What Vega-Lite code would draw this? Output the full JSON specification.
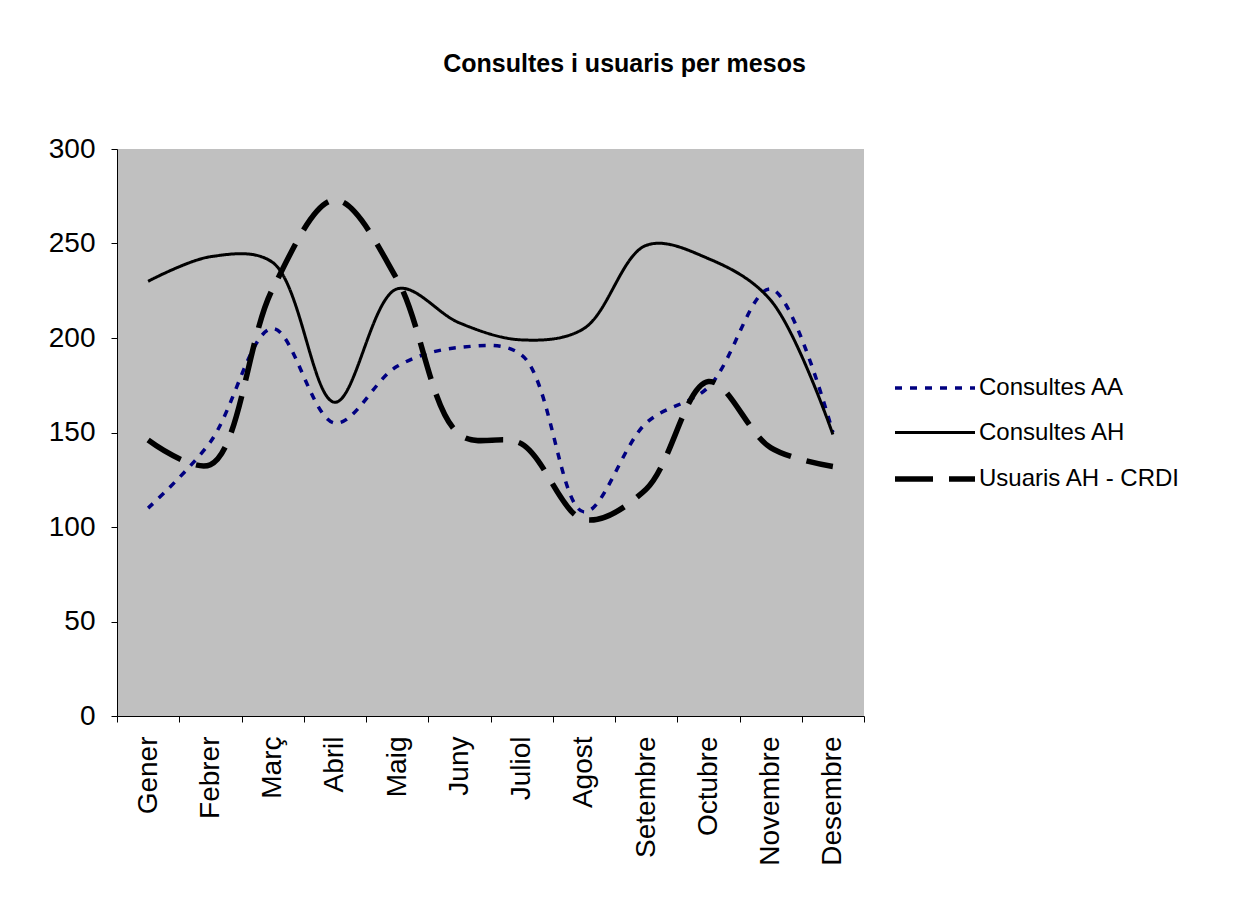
{
  "$schema": "https://vega.github.io/schema/vega-lite/v6.json",
  "width": 747,
  "height": 567,
  "autosize": {"type": "none"},
  "padding": {"left": 117, "top": 149, "right": 371, "bottom": 184},
  "background": "white",
  "title": {
    "text": "Consultes i usuaris per mesos",
    "font": "Liberation Sans",
    "fontSize": 25,
    "fontWeight": "bold",
    "color": "black",
    "anchor": "middle",
    "dx": 134,
    "offset": 58
  },
  "data": {
    "values": [
      {"mes": "Gener", "serie": "Consultes AA", "valor": 110},
      {"mes": "Febrer", "serie": "Consultes AA", "valor": 145},
      {"mes": "Març", "serie": "Consultes AA", "valor": 205},
      {"mes": "Abril", "serie": "Consultes AA", "valor": 155},
      {"mes": "Maig", "serie": "Consultes AA", "valor": 185},
      {"mes": "Juny", "serie": "Consultes AA", "valor": 195},
      {"mes": "Juliol", "serie": "Consultes AA", "valor": 191},
      {"mes": "Agost", "serie": "Consultes AA", "valor": 108},
      {"mes": "Setembre", "serie": "Consultes AA", "valor": 155},
      {"mes": "Octubre", "serie": "Consultes AA", "valor": 174},
      {"mes": "Novembre", "serie": "Consultes AA", "valor": 226},
      {"mes": "Desembre", "serie": "Consultes AA", "valor": 150},
      {"mes": "Gener", "serie": "Consultes AH", "valor": 230},
      {"mes": "Febrer", "serie": "Consultes AH", "valor": 243},
      {"mes": "Març", "serie": "Consultes AH", "valor": 240},
      {"mes": "Abril", "serie": "Consultes AH", "valor": 166},
      {"mes": "Maig", "serie": "Consultes AH", "valor": 226},
      {"mes": "Juny", "serie": "Consultes AH", "valor": 208},
      {"mes": "Juliol", "serie": "Consultes AH", "valor": 199},
      {"mes": "Agost", "serie": "Consultes AH", "valor": 205},
      {"mes": "Setembre", "serie": "Consultes AH", "valor": 249},
      {"mes": "Octubre", "serie": "Consultes AH", "valor": 242},
      {"mes": "Novembre", "serie": "Consultes AH", "valor": 220},
      {"mes": "Desembre", "serie": "Consultes AH", "valor": 149},
      {"mes": "Gener", "serie": "Usuaris AH - CRDI", "valor": 146},
      {"mes": "Febrer", "serie": "Usuaris AH - CRDI", "valor": 133},
      {"mes": "Març", "serie": "Usuaris AH - CRDI", "valor": 226},
      {"mes": "Abril", "serie": "Usuaris AH - CRDI", "valor": 273},
      {"mes": "Maig", "serie": "Usuaris AH - CRDI", "valor": 231},
      {"mes": "Juny", "serie": "Usuaris AH - CRDI", "valor": 149},
      {"mes": "Juliol", "serie": "Usuaris AH - CRDI", "valor": 144},
      {"mes": "Agost", "serie": "Usuaris AH - CRDI", "valor": 104},
      {"mes": "Setembre", "serie": "Usuaris AH - CRDI", "valor": 120},
      {"mes": "Octubre", "serie": "Usuaris AH - CRDI", "valor": 177},
      {"mes": "Novembre", "serie": "Usuaris AH - CRDI", "valor": 142},
      {"mes": "Desembre", "serie": "Usuaris AH - CRDI", "valor": 132}
    ]
  },
  "mark": {"type": "line", "interpolate": "catmull-rom"},
  "encoding": {
    "x": {
      "field": "mes",
      "type": "nominal",
      "sort": null,
      "bandPosition": 0.5,
      "scale": {"type": "band", "paddingInner": 0, "paddingOuter": 0},
      "axis": {
        "title": null,
        "labelAngle": -90,
        "labelAlign": "right",
        "labelBaseline": "middle",
        "labelFont": "Liberation Sans",
        "labelFontSize": 28,
        "labelColor": "black",
        "labelPadding": 14,
        "tickBand": "extent",
        "tickSize": 6,
        "tickColor": "black",
        "domainColor": "black",
        "domainWidth": 1,
        "grid": false
      }
    },
    "y": {
      "field": "valor",
      "type": "quantitative",
      "scale": {"domain": [0, 300], "nice": false},
      "axis": {
        "title": null,
        "values": [0, 50, 100, 150, 200, 250, 300],
        "labelFont": "Liberation Sans",
        "labelFontSize": 28,
        "labelColor": "black",
        "labelPadding": 16,
        "tickSize": 6,
        "tickColor": "black",
        "domainColor": "black",
        "grid": false
      }
    },
    "color": {
      "field": "serie",
      "type": "nominal",
      "scale": {
        "domain": ["Consultes AA", "Consultes AH", "Usuaris AH - CRDI"],
        "range": ["#000080", "#000000", "#000000"]
      },
      "legend": {
        "title": null,
        "orient": "none",
        "legendX": 795,
        "legendY": 217,
        "symbolType": "M-2,0H2",
        "symbolSize": 1600,
        "symbolFillColor": "transparent",
        "labelFont": "Liberation Sans",
        "labelFontSize": 24,
        "labelColor": "black",
        "labelOffset": 21,
        "labelLimit": 400,
        "rowPadding": 11
      }
    },
    "strokeDash": {
      "field": "serie",
      "type": "nominal",
      "scale": {
        "domain": ["Consultes AA", "Consultes AH", "Usuaris AH - CRDI"],
        "range": [[7, 8], [1, 0], [38, 16]]
      }
    },
    "strokeWidth": {
      "field": "serie",
      "type": "ordinal",
      "scale": {
        "type": "ordinal",
        "domain": ["Consultes AA", "Consultes AH", "Usuaris AH - CRDI"],
        "range": [3.5, 3, 5.5]
      }
    }
  },
  "config": {
    "view": {"fill": "#C0C0C0", "stroke": null}
  }
}
